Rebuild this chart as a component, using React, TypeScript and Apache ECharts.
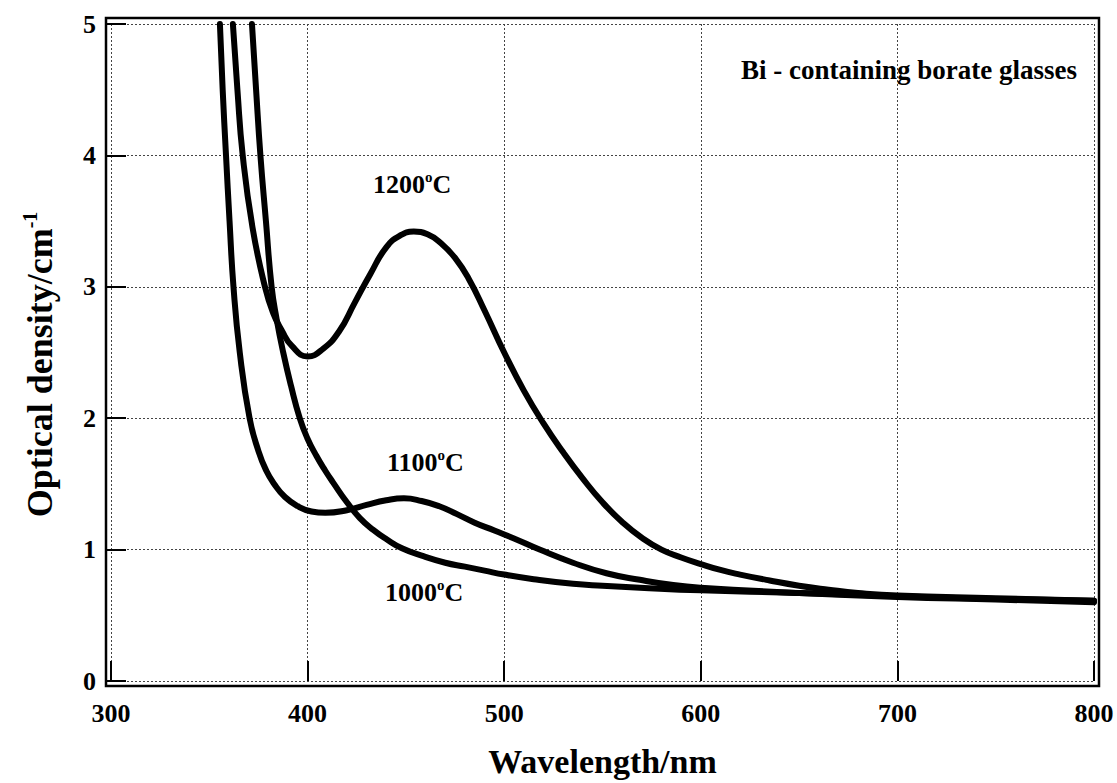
import React, { useEffect, useRef } from "react";
import * as echarts from "echarts";

// Wavelength (nm) / optical density (cm^-1)
const series1000C: [number, number][] = [
  [371.7, 5.0], [373.8, 4.5], [376, 4.0], [378.8, 3.5], [381.7, 3.0], [384.3, 2.75],
  [387.6, 2.5], [391.5, 2.25], [396, 2.0], [399.8, 1.85], [404.6, 1.71], [409, 1.6],
  [413, 1.51], [420, 1.36], [426.6, 1.24], [433.4, 1.15], [440, 1.08], [448, 1.01],
  [458.9, 0.95], [470, 0.9], [480, 0.87], [490, 0.84], [500, 0.81], [515, 0.775],
  [535, 0.74], [550, 0.725], [569, 0.71], [600, 0.69], [650, 0.67], [700, 0.645],
  [750, 0.625], [800, 0.61],
];
const series1100C: [number, number][] = [
  [355.4, 5.0], [356.8, 4.5], [358.5, 4.0], [360.3, 3.5], [362.3, 3.0], [365.5, 2.5],
  [370.5, 2.0], [375, 1.75], [379, 1.6], [383, 1.5], [388.5, 1.4], [395, 1.33],
  [402, 1.29], [409, 1.28], [420, 1.3], [430, 1.34], [440, 1.375], [449, 1.39],
  [458, 1.37], [467, 1.33], [476, 1.27], [485, 1.205], [495, 1.145], [505, 1.085],
  [518, 1.0], [535, 0.9], [552, 0.82], [569, 0.77], [586, 0.73], [600, 0.71],
  [650, 0.67], [700, 0.64], [750, 0.62], [800, 0.6],
];
const series1200C: [number, number][] = [
  [362, 5.0], [364.3, 4.5], [367, 4.0], [372, 3.45], [378.3, 3.0], [382.5, 2.8],
  [386.8, 2.67], [392, 2.55], [400, 2.47], [408, 2.53], [416, 2.66], [424, 2.88],
  [432, 3.1], [440, 3.3], [447, 3.39], [454, 3.42], [461, 3.4], [468, 3.33],
  [475, 3.22], [482, 3.06], [490, 2.82], [500, 2.5], [510, 2.21], [520, 1.96],
  [530, 1.74], [540, 1.54], [550, 1.36], [560, 1.21], [570, 1.09], [580, 1.0],
  [590, 0.94], [600, 0.89], [610, 0.845], [620, 0.81], [635, 0.765], [650, 0.725],
  [665, 0.695], [680, 0.67], [700, 0.65], [750, 0.63], [800, 0.61],
];

const xMin = 300, xMax = 800, xStep = 100;
const yMin = 0, yMax = 5, yStep = 1;

const labels = [
  { text: "1200", x: 373, y: 184 },
  { text: "1100", x: 387, y: 462 },
  { text: "1000", x: 385, y: 592 },
];

const FONT = "'Liberation Serif', 'Times New Roman', serif";

export default function App() {
  const ref = useRef<HTMLDivElement>(null);
  useEffect(() => {
    if (!ref.current) return;
    const chart = echarts.init(ref.current, undefined, { renderer: "svg" });
    const lineSeries = (name: string, data: [number, number][]) => ({
      name,
      type: "line",
      data,
      showSymbol: false,
      smooth: 0.5,
      clip: true,
      lineStyle: { color: "#000", width: 6, cap: "round", join: "round" },
    });
    const rich = {
      a: { fontFamily: FONT, fontWeight: "bold", fontSize: 26, color: "#000", lineHeight: 30 },
      s: { fontFamily: FONT, fontWeight: "bold", fontSize: 15, color: "#000", verticalAlign: "top", lineHeight: 16 },
    };
    chart.setOption({
      animation: false,
      backgroundColor: "#fff",
      grid: { left: 111, right: 23, top: 24, bottom: 102, outerBoundsMode: "none", containLabel: false },
      xAxis: {
        type: "value",
        min: xMin,
        max: xMax,
        interval: xStep,
        offset: 5,
        axisLine: { show: false },
        axisTick: { show: true, inside: true, length: 20, lineStyle: { color: "#000", width: 2 } },
        axisLabel: { fontFamily: FONT, fontWeight: "bold", fontSize: 26, color: "#000", margin: 14 },
        splitLine: { show: true, lineStyle: { color: "#444", width: 1, type: [2, 2] } },
        name: "Wavelength/nm",
        nameLocation: "middle",
        nameGap: 58,
        nameTextStyle: { fontFamily: FONT, fontWeight: "bold", fontSize: 34, color: "#000", lineHeight: 34 },
      },
      yAxis: {
        type: "value",
        min: yMin,
        max: yMax,
        interval: yStep,
        offset: 5,
        axisLine: { show: false },
        axisTick: { show: true, inside: true, length: 20, lineStyle: { color: "#000", width: 2 } },
        axisLabel: { fontFamily: FONT, fontWeight: "bold", fontSize: 26, color: "#000", margin: 10 },
        splitLine: { show: true, lineStyle: { color: "#444", width: 1, type: [2, 2] } },
        name: "{a|Optical density/cm}{s|-1}",
        nameLocation: "middle",
        nameRotate: 90,
        nameGap: 46,
        nameTextStyle: {
          rich: {
            a: { fontFamily: FONT, fontWeight: "bold", fontSize: 36, color: "#000", lineHeight: 40 },
            s: {
              fontFamily: FONT, fontWeight: "bold", fontSize: 20, color: "#000",
              verticalAlign: "top", lineHeight: 22, padding: [0, 24, 0, 0],
            },
          },
        },
      },
      series: [
        lineSeries("1000°C", series1000C),
        lineSeries("1100°C", series1100C),
        lineSeries("1200°C", series1200C),
      ],
      graphic: [
        {
          type: "rect",
          z: 100,
          silent: true,
          shape: { x: 106, y: 18, width: 993, height: 668 },
          style: { fill: "none", stroke: "#000", lineWidth: 2.5 },
        },
        {
          type: "text",
          z: 100,
          x: 1077,
          y: 70,
          style: {
            text: "Bi - containing borate glasses",
            fontFamily: FONT,
            fontWeight: "bold",
            fontSize: 27,
            fill: "#000",
            align: "right",
            verticalAlign: "middle",
          },
        },
        ...labels.map((l) => ({
          type: "text",
          z: 100,
          x: l.x,
          y: l.y,
          style: {
            text: `{a|${l.text}}{s|o}{a|C}`,
            rich,
            align: "left",
            verticalAlign: "middle",
          },
        })),
      ],
    });
    return () => chart.dispose();
  }, []);
  return (
    <div
      ref={ref}
      style={{ position: "fixed", left: 0, top: 0, width: 1117, height: 783, background: "#fff" }}
    />
  );
}
